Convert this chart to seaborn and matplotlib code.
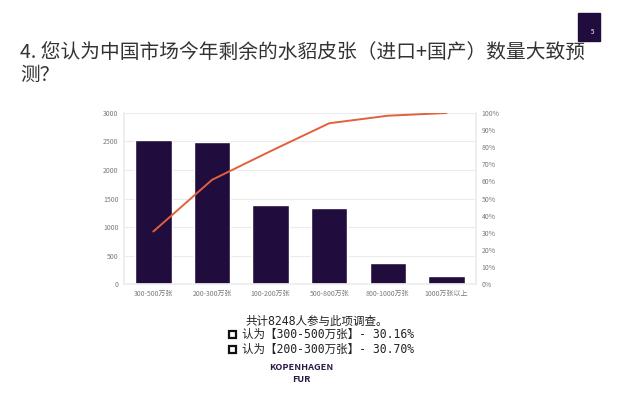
import matplotlib
matplotlib.use("Agg")
import matplotlib.pyplot as plt
import seaborn as sns
import pandas as pd
from matplotlib.patches import Rectangle
from matplotlib.ticker import FuncFormatter

categories = ["300-500万张", "200-300万张", "100-200万张", "500-800万张", "800-1000万张", "1000万张以上"]
counts = [2532, 2488, 1391, 1339, 363, 135]
cumulative_pct = [30.7, 60.9, 77.7, 94.0, 98.4, 100.0]
left_ticks = [0, 500, 1000, 1500, 2000, 2500, 3000]
right_ticks = [0, 10, 20, 30, 40, 50, 60, 70, 80, 90, 100]

title_lines = ["4. 您认为中国市场今年剩余的水貂皮张（进口+国产）数量大致预", "测？"]
note_lines = ["共计8248人参与此项调查。",
              "认为【300-500万张】- 30.16%",
              "认为【200-300万张】- 30.70%"]

sns.set_theme(style="white")
plt.rcParams['font.family'] = ['Noto Sans CJK SC', 'DejaVu Sans']

df = pd.DataFrame({"cat": categories, "count": counts, "cum": cumulative_pct})

fig = plt.figure(figsize=(6.22, 3.97), dpi=100)
ax = fig.add_axes([0.1994, 0.2846, 0.5656, 0.4308])

bar_color = "#210c3e"
line_color = "#e2603c"
grid_color = "#ececec"
tick_color = "#7a7a7a"

sns.barplot(data=df, x="cat", y="count", color=bar_color, width=0.62,
            saturation=1, ax=ax, order=categories)
ax.set_ylim(0, 3000)
ax.set_yticks(left_ticks)
ax.yaxis.grid(True, color=grid_color, linewidth=0.8)
ax.set_axisbelow(True)
ax.set_xlabel("")
ax.set_ylabel("")
for s in ["top", "bottom", "right", "left"]:
    ax.spines[s].set_visible(False)
ax.spines["left"].set_visible(True)
ax.spines["left"].set_color(grid_color)
ax.spines["bottom"].set_visible(True)
ax.spines["bottom"].set_color(grid_color)
ax.tick_params(axis="both", length=0, labelsize=5, colors=tick_color, pad=4)

ax2 = ax.twinx()
sns.lineplot(data=df, x="cat", y="cum", sort=False, color=line_color,
             linewidth=1.4, ax=ax2)
ax2.set_ylim(0, 100)
ax2.set_yticks(right_ticks)
ax2.yaxis.set_major_formatter(FuncFormatter(lambda v, p: f"{int(v)}%"))
ax2.set_ylabel("")
ax2.set_xlabel("")
for s in ["top", "bottom", "left"]:
    ax2.spines[s].set_visible(False)
ax2.spines["right"].set_color(grid_color)
ax2.tick_params(axis="y", length=0, labelsize=5, colors=tick_color, pad=4)
ax.set_xlim(-0.5, len(categories) - 0.5)

# Title
fig.text(20 / 622, 1 - 52 / 397, title_lines[0], fontsize=14.2, color="#333333",
         va="center", ha="left")
fig.text(20 / 622, 1 - 75 / 397, title_lines[1], fontsize=14.2, color="#333333",
         va="center", ha="left")

# Page number box
fig.patches.append(Rectangle((578 / 622, 1 - 41 / 397), 22 / 622, 28 / 397,
                             transform=fig.transFigure, color="#210c3e"))
fig.text(593 / 622, 1 - 32 / 397, "5", fontsize=4.5, color="white",
         ha="center", va="center")

# Notes
note_font = ['DejaVu Sans Mono', 'Noto Sans CJK SC']
fig.text(317 / 622, 1 - 321 / 397, note_lines[0], fontsize=8.3, color="#222222",
         ha="center", va="center", family=note_font)
for i, line in enumerate(note_lines[1:]):
    y = 1 - (334.5 + 15 * i) / 397
    fig.patches.append(Rectangle((228.5 / 622, y - 3.5 / 397), 7 / 622, 7 / 397,
                                 transform=fig.transFigure, fill=False,
                                 edgecolor="#111111", linewidth=1.6))
    fig.text(242 / 622, y, line, fontsize=8.3, color="#222222",
             ha="left", va="center", family=note_font)

# Logo
fig.text(301 / 622, 1 - 368 / 397, "KOPENHAGEN", fontsize=6.6, color="#2a1a45",
         ha="center", va="center", fontweight="bold")
fig.text(301 / 622, 1 - 379 / 397, "FUR", fontsize=6.6, color="#2a1a45",
         ha="center", va="center", fontweight="bold")

fig.savefig("out.png", dpi=100)
